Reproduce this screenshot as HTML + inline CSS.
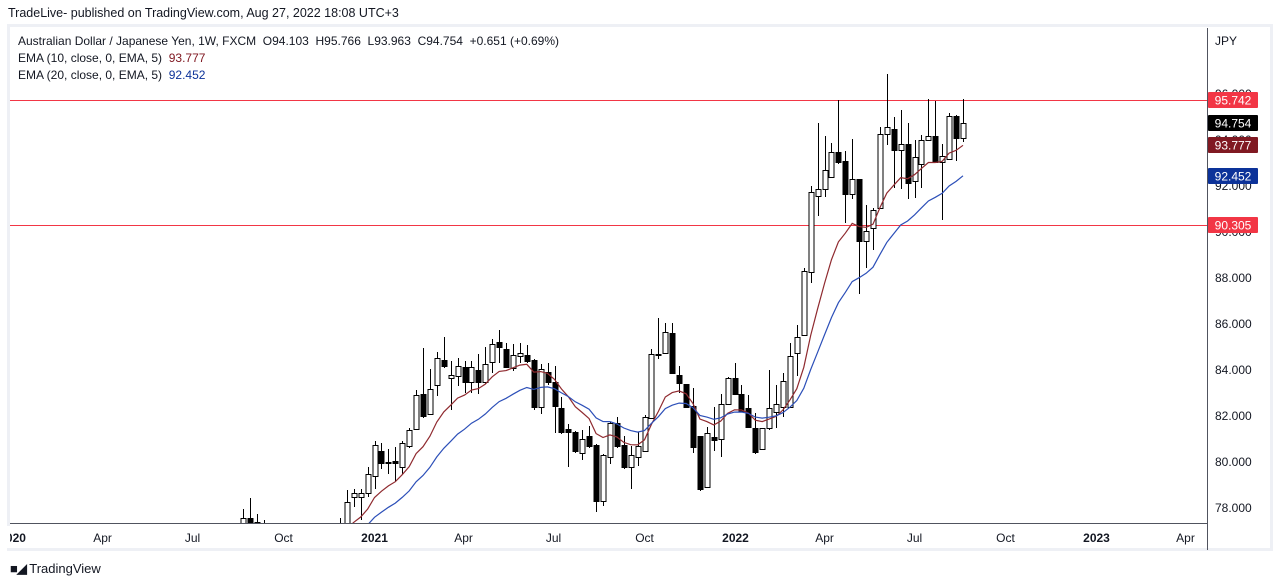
<!DOCTYPE html>
<html><head><meta charset="utf-8">
<style>
body{margin:0;background:#fff;font-family:"Liberation Sans",sans-serif;}
#wrap{position:relative;width:1280px;height:587px;overflow:hidden;background:#fff}
.t{position:absolute;white-space:nowrap}
</style></head>
<body>
<div id="wrap">
<div class="t" style="left:8px;top:6px;font-size:12.5px;color:#131722">TradeLive- published on TradingView.com, Aug 27, 2022 18:08 UTC+3</div>
<svg id="svg" width="1280" height="587" style="position:absolute;left:0;top:0"></svg>
<div class="t" style="left:18px;top:34px;font-size:12px;color:#131722">Australian Dollar / Japanese Yen, 1W, FXCM &nbsp;O94.103 &nbsp;H95.766 &nbsp;L93.963 &nbsp;C94.754 &nbsp;+0.651 (+0.69%)</div>
<div class="t" style="left:18px;top:51px;font-size:12px;color:#131722">EMA (10, close, 0, EMA, 5) &nbsp;<span style="color:#801922">93.777</span></div>
<div class="t" style="left:18px;top:68px;font-size:12px;color:#131722">EMA (20, close, 0, EMA, 5) &nbsp;<span style="color:#0c3299">92.452</span></div>
<div class="t" style="left:10px;top:561px;font-size:13px;color:#131722"><span style="font-weight:bold;letter-spacing:-1px">&#9632;&#9698;</span> TradingView</div>
</div>
<script>
const opens=[77.26,77.57,77.39,77.2,77.1,76.8,76.5,76.2,76.0,76.3,76.6,76.4,76.8,77.0,77.3,77.2,78.48,78.48,78.65,79.39,80.48,80.0,80.04,79.78,80.7,81.43,82.96,82.09,83.35,84.43,83.65,83.74,84.13,83.48,84.0,83.48,84.35,85.22,84.91,84.09,84.61,84.65,84.43,82.39,83.91,83.48,82.35,81.43,81.3,80.39,81.13,80.74,78.3,80.22,81.7,80.74,79.78,80.22,80.48,81.91,84.7,84.74,85.61,83.78,83.39,82.43,81.13,78.91,81.09,81.0,82.52,83.65,82.96,82.35,81.48,80.57,81.48,82.17,82.39,82.39,84.74,85.52,88.26,91.57,91.87,92.39,93.48,93.09,91.65,92.3,89.61,90.17,91.04,94.26,94.48,93.57,93.83,92.22,92.96,94.0,94.17,93.04,93.17,95.04,94.103];
const highs=[77.96,78.43,77.74,77.48,77.2,77.0,76.8,76.5,76.4,76.7,76.9,76.9,77.1,77.25,77.57,78.78,78.83,78.83,79.78,80.91,80.83,80.57,80.65,80.91,81.48,83.13,84.96,84.04,84.78,85.43,84.39,84.52,84.39,84.39,84.7,85.0,85.35,85.74,85.17,85.13,85.17,85.09,84.5,84.26,84.3,84.17,82.83,81.65,81.35,81.39,81.57,80.78,80.35,81.74,81.96,81.13,80.7,81.3,82.04,84.91,86.26,86.04,86.04,84.17,83.39,83.22,81.13,81.52,82.39,82.96,83.7,84.3,83.35,82.91,82.13,81.48,84.0,83.35,83.87,85.17,85.96,88.43,92.0,94.74,94.17,93.87,95.74,93.52,94.04,92.3,91.17,91.04,94.57,96.87,95.0,95.3,94.74,94.0,94.22,95.78,95.7,93.83,95.17,95.09,95.766];
const lows=[77.2,77.2,77.2,76.9,76.6,76.3,76.0,75.8,75.7,75.9,76.2,76.1,76.4,76.7,77.0,77.0,78.09,77.52,78.52,78.87,79.74,79.52,79.17,79.52,80.65,81.43,81.96,82.09,82.91,84.13,82.3,83.35,83.04,83.04,83.0,83.43,83.91,84.35,84.13,84.0,84.35,84.35,82.3,82.13,83.4,81.3,81.25,79.83,80.43,80.13,80.65,77.87,78.13,79.96,80.65,79.74,78.87,79.87,80.48,81.91,84.52,84.74,83.87,83.04,82.39,80.43,78.78,78.91,80.52,80.26,82.52,82.96,82.22,81.52,80.39,80.57,81.43,81.52,82.0,82.39,83.78,85.52,87.83,90.74,91.57,92.39,93.0,90.43,91.48,87.35,88.48,89.26,91.04,93.83,91.96,91.91,91.48,91.52,91.96,94.0,93.04,90.57,93.17,93.13,93.963];
const closes=[77.57,77.35,77.3,77.1,76.8,76.5,76.2,76.0,76.3,76.6,76.4,76.8,77.0,77.2,77.35,78.26,78.65,78.65,79.48,80.74,79.96,80.0,79.96,80.83,81.39,82.91,82.0,83.17,84.52,84.17,83.78,84.17,83.48,84.13,83.48,84.26,85.13,85.0,84.13,84.65,84.74,84.39,82.39,84.04,83.48,82.43,81.3,81.3,80.48,81.0,80.7,78.3,80.3,81.7,80.7,79.78,80.3,80.7,81.96,84.7,84.7,85.65,83.87,83.43,82.39,80.65,78.83,81.26,80.96,82.52,83.65,82.96,82.22,81.52,80.43,81.48,82.35,82.52,83.52,84.61,85.43,88.3,91.74,91.87,92.7,93.48,93.04,91.65,92.3,89.61,90.04,90.96,94.26,94.57,93.57,93.83,92.13,93.26,94.0,94.17,93.04,93.3,95.04,94.09,94.754];
const emaSeed=[76.0,75.4];
const emaLast=[93.777,92.452];
const priceTicks=[78,80,82,84,86,88,90,92,94,96];
const hLevels=[95.742,90.305];
const timeLabels=["2020","Apr","Jul","Oct","2021","Apr","Jul","Oct","2022","Apr","Jul","Oct","2023","Apr"];
const timeDates=["2020-01-01","2020-04-01","2020-07-01","2020-10-01","2021-01-01","2021-04-01","2021-07-01","2021-10-01","2022-01-01","2022-04-01","2022-07-01","2022-10-01","2023-01-01","2023-04-01"];
const firstCandle="2020-08-21";

const NS="http://www.w3.org/2000/svg";
const svg=document.getElementById('svg');
const PL=10,PR=1207,PT=28,PB=523;
const y=p=>508-(p-78)*23;
const dayMs=86400000, t0=Date.parse(firstCandle), pxDay=0.989;
const xd=d=>243+(Date.parse(d)-t0)/dayMs*pxDay;
const xi=i=>243+i*7*pxDay;
function mk(tag,attrs,parent){const e=document.createElementNS(NS,tag);for(const k in attrs)e.setAttribute(k,attrs[k]);(parent||svg).appendChild(e);return e;}
const fr=mk('rect',{x:8.5,y:25.5,width:1263,height:524,fill:'none',stroke:'#eef0f5','stroke-width':3});


const clip=mk('clipPath',{id:'pc'});mk('rect',{x:PL,y:PT,width:PR-PL,height:PB-PT},clip);
const plot=mk('g',{'clip-path':'url(#pc)'});


priceTicks.forEach(p=>{const t=mk('text',{x:1215,y:y(p)+4,'font-size':12,fill:'#131722','font-family':'Liberation Sans'});t.textContent=p.toFixed(3);

});
const jpy=mk('text',{x:1215,y:45,'font-size':12,fill:'#131722','font-family':'Liberation Sans'});jpy.textContent='JPY';


timeLabels.forEach((l,i)=>{const t=mk('text',{x:xd(timeDates[i]),y:542,'font-size':12,fill:'#131722','text-anchor':'middle','font-family':'Liberation Sans','font-weight':/^\d/.test(l)?'bold':'normal'});t.textContent=l;

});
mk('rect',{x:0,y:526,width:10,height:22,fill:'#fff'});
hLevels.forEach(p=>{const yy=Math.round(y(p))+0.5;const l=mk('line',{x1:PL,x2:PR,y1:yy,y2:yy,stroke:'#f23645','stroke-width':1},plot);

});
closes.forEach((c,i)=>{const o=opens[i],x=Math.round(xi(i))+0.5;const g=mk('g',{},plot);


const top=Math.round(Math.min(y(o),y(c)))+0.5,bot=Math.round(Math.max(y(o),y(c)))+0.5;
mk('line',{x1:x,x2:x,y1:Math.round(y(highs[i])),y2:top,stroke:'#000'},g);
mk('line',{x1:x,x2:x,y1:bot,y2:Math.round(y(lows[i]))+1,stroke:'#000'},g);
const h=Math.max(bot-top,1);
mk('rect',{x:x-2.5,y:top,width:5,height:h,fill:c>=o?'#fff':'#000',stroke:'#000','stroke-width':1},g);});
function ema(n,seed){const k=2/(n+1);let e=seed;return closes.map(c=>(e=c*k+e*(1-k)));}
const e10=ema(10,emaSeed[0]),e20=ema(20,emaSeed[1]);
[[e10,'#8f2a2f','ema10-line'],[e20,'#2c4fb8','ema20-line']].forEach(([arr,col,nm])=>{const p=mk('polyline',{points:arr.map((v,i)=>xi(i).toFixed(1)+','+y(v).toFixed(1)).join(' '),fill:'none',stroke:col,'stroke-width':1.2},plot);

});
mk('line',{x1:PL,x2:PR,y1:PB+0.5,y2:PB+0.5,stroke:'#50535e'});
mk('line',{x1:PR+0.5,x2:PR+0.5,y1:PT,y2:550,stroke:'#50535e'});
const last=closes.length-1;
[[hLevels[0],'#f23645',hLevels[0]],[closes[last],'#000',closes[last]],[e10[last],'#801922',emaLast[0]],[e20[last],'#0c3299',emaLast[1]],[hLevels[1],'#f23645',hLevels[1]]].forEach(([v,col,lab])=>{const g=mk('g',{});


mk('rect',{x:1208,y:Math.round(y(v))-8,width:50,height:16,rx:1,fill:col},g);
const t=mk('text',{x:1233,y:Math.round(y(v))+4.5,'font-size':12,fill:'#fff','text-anchor':'middle','font-family':'Liberation Sans'},g);t.textContent=lab.toFixed(3);});
</script>
</body></html>
